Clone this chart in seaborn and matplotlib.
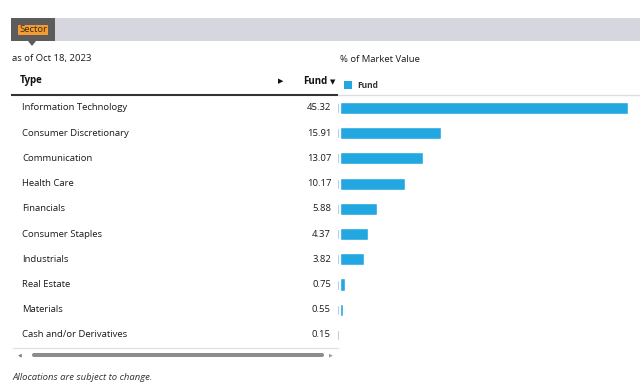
import numpy as np
import pandas as pd
import matplotlib
matplotlib.use("Agg")
import matplotlib.pyplot as plt
import seaborn as sns
from matplotlib.patches import Rectangle, FancyBboxPatch, Polygon

# data
sectors = ["Information Technology", "Consumer Discretionary", "Communication",
           "Health Care", "Financials", "Consumer Staples", "Industrials",
           "Real Estate", "Materials", "Cash and/or Derivatives"]
fund = [45.32, 15.91, 13.07, 10.17, 5.88, 4.37, 3.82, 0.75, 0.55, 0.15]
as_of = "as of Oct 18, 2023"

BAR = "#22a7e0"
W, H = 640, 387

sns.set_theme(style="white")
plt.rcParams["font.family"] = ["Open Sans", "DejaVu Sans"]

fig = plt.figure(figsize=(W / 100, H / 100), dpi=100)

def fx(x):
    return x / W

def fy(y):
    return 1 - y / H

# background axes covering the whole figure, pixel coordinates
bg = fig.add_axes([0, 0, 1, 1])
bg.set_xlim(0, W)
bg.set_ylim(H, 0)
bg.axis("off")

# header band and tab
bg.add_patch(Rectangle((11, 18), W - 11, 23, color="#d6d6de", lw=0))
bg.add_patch(Rectangle((11, 18), 44, 23, color="#5c5c5c", lw=0))
bg.add_patch(Polygon([[28, 41], [36, 41], [32, 46]], color="#5c5c5c", lw=0))
bg.text(33, 30, "Sector", fontsize=6.8, color="#3a2a10", ha="center", va="center",
        bbox=dict(boxstyle="square,pad=0.1", fc="#f39c33", ec="none"))

bg.text(12, 59, as_of, fontsize=6.8, color="#1a1a1a", va="center")
bg.text(340, 60, "% of Market Value", fontsize=6.8, color="#1a1a1a", va="center")

# column headers
bg.text(20, 81, "Type", fontsize=7, fontweight="bold", color="#111111", va="center")
bg.text(281, 81, "\u25b6", fontsize=5, color="#111111", va="center", ha="center",
        family="DejaVu Sans")
bg.text(327, 81, "Fund", fontsize=7, fontweight="bold", color="#111111", va="center", ha="right")
bg.text(333, 82, "\u25bc", fontsize=5, color="#111111", va="center", ha="center",
        family="DejaVu Sans")
bg.add_patch(Rectangle((344, 81), 8, 8, color=BAR, lw=0))
bg.text(357, 85, "Fund", fontsize=6, fontweight="bold", color="#333333", va="center")

bg.plot([11, 338], [94.5, 94.5], color="#333333", lw=1.5, solid_capstyle="butt")
bg.plot([338, 640], [95, 95], color="#dddddd", lw=1)

# table rows
row_top, row_step = 108, 25.22
for i, (name, val) in enumerate(zip(sectors, fund)):
    y = row_top + i * row_step
    bg.text(22, y, name, fontsize=6.8, color="#1a1a1a", va="center")
    bg.text(331, y, f"{val:.2f}", fontsize=6.8, color="#1a1a1a", va="center", ha="right")
    bg.plot([338, 338], [y - 4, y + 4], color="#9cc8ec", lw=0.6)

bg.plot([13, 338], [348, 348], color="#dddddd", lw=0.8)

# scrollbar
bg.text(20, 355, "\u25c0", fontsize=3.5, color="#777777", va="center", ha="center",
        family="DejaVu Sans")
bg.text(331, 355, "\u25b6", fontsize=3.5, color="#999999", va="center", ha="center",
        family="DejaVu Sans")
bg.add_patch(FancyBboxPatch((32, 353), 292, 4, boxstyle="round,pad=0,rounding_size=2",
                            fc="#8c8c8c", ec="none"))

bg.text(13, 377, "Allocations are subject to change.", fontsize=6.8, style="italic",
        color="#333333", va="center")

# bar chart axes aligned with the table rows
top = row_top - row_step / 2
bottom = row_top + 9 * row_step + row_step / 2
ax = fig.add_axes([fx(340), fy(bottom), fx(300), (bottom - top) / H])
df = pd.DataFrame({"Type": sectors, "Fund": fund})
sns.barplot(data=df, x="Fund", y="Type", orient="h", color=BAR, width=0.48,
            saturation=1, ax=ax)
ax.set_xlim(0, 300 / (288 / 45.32))
ax.set_ylim(9.5, -0.5)
ax.axis("off")
ax.patch.set_alpha(0)

fig.savefig("out.png", dpi=100)
